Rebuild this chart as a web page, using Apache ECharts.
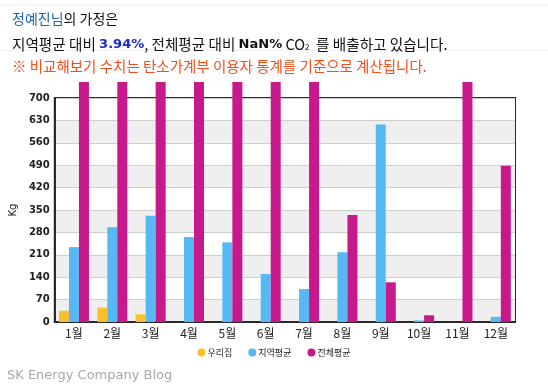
<!DOCTYPE html>
<html><head><meta charset="utf-8">
<script src="https://cdn.jsdelivr.net/npm/echarts@6/dist/echarts.min.js"></script>
<style>html,body{margin:0;padding:0;background:#fff}#c{width:548px;height:391px}</style>
</head><body><div id="c"></div>
<script>
const categories = ['1월','2월','3월','4월','5월','6월','7월','8월','9월','10월','11월','12월'];
const ourHome = [35, 45, 24, null, null, null, null, null, null, null, null, null];
const regionAvg = [234, 296, 332, 266, 249, 150, 103, 218, 617, 5, null, 16];
const totalAvg = [750, 750, 750, 750, 750, 750, 750, 334, 124, 21, 750, 488];
const yTicks = [0, 70, 140, 210, 280, 350, 420, 490, 560, 630, 700];
const seriesNames = ['우리집', '지역평균', '전체평균'];

const chart = echarts.init(document.getElementById('c'));
const kr = '"Noto Sans CJK KR", sans-serif';
function bar(name, data, color) {
  return {
    name, type: 'bar', data, barWidth: 10, barGap: '0%', clip: false,
    itemStyle: { color: color },
    emphasis: { disabled: true }
  };
}
chart.setOption({
  animation: false,
  graphic: [
    { type: 'line', shape: { x1: 0, y1: 5, x2: 548, y2: 5 }, style: { stroke: '#eee', lineWidth: 1 } },
    { type: 'line', shape: { x1: 0, y1: 50, x2: 548, y2: 50 }, style: { stroke: '#eee', lineWidth: 1 } },
    { type: 'text', left: 12, top: 12, style: {
        text: '{b|정예진님}{n|의 가정은}',
        rich: { b: { fill: '#1f63a8', fontSize: 14, fontFamily: kr }, n: { fill: '#111', fontSize: 14, fontFamily: kr } } } },
    { type: 'text', left: 12, top: 37, style: {
        text: '{n|지역평균 대비 }{p|3.94%}{n|, 전체평균 대비 }{k|NaN%}{n| CO}{s|2}{n|  를 배출하고 있습니다.}',
        rich: {
          n: { fill: '#111', fontSize: 14.6, fontFamily: kr },
          p: { fill: '#1a2bc8', fontSize: 13, fontWeight: 'bold', fontFamily: 'DejaVu Sans' },
          k: { fill: '#111', fontSize: 13, fontWeight: 'bold', fontFamily: 'DejaVu Sans' },
          s: { fill: '#111', fontSize: 8, fontFamily: kr, padding: [6, 0, 0, 0] }
        } } },
    { type: 'text', left: 12, top: 59, style: {
        text: '※ 비교해보기 수치는 탄소가계부 이용자 통계를 기준으로 계산됩니다.',
        fill: '#f0501e', fontSize: 14.5, fontFamily: kr } },
    { type: 'text', left: 7, top: 369, style: {
        text: 'SK Energy Company Blog', fill: '#a8a8a8', fontSize: 13, fontFamily: '"DejaVu Sans", sans-serif' } }
  ],
  legend: {
    bottom: 29, left: 'center', icon: 'circle', itemWidth: 8, itemHeight: 8, itemGap: 16,
    data: seriesNames,
    textStyle: { fontSize: 9, color: '#222', fontFamily: kr, padding: [0, 0, 0, -3] }
  },
  grid: { left: 50, right: 33, top: 98, bottom: 69, show: true, borderColor: '#2a2a2a', borderWidth: 2, backgroundColor: 'transparent' },
  xAxis: {
    type: 'category', data: categories,
    axisTick: { show: false },
    axisLine: { lineStyle: { color: '#2a2a2a', width: 2 } },
    axisLabel: { color: '#222', fontSize: 12, fontFamily: kr, margin: 5 }
  },
  yAxis: {
    type: 'value', min: 0, max: 700, interval: 70,
    name: 'Kg', nameLocation: 'middle', nameGap: 34, nameRotate: 90,
    nameTextStyle: { color: '#222', fontSize: 10, fontFamily: 'DejaVu Sans' },
    axisLine: { show: true, lineStyle: { color: '#2a2a2a', width: 2 } },
    axisLabel: { color: '#222', fontSize: 10, fontWeight: 'bold', fontFamily: 'DejaVu Sans', margin: 5,
      formatter: v => yTicks.includes(v) ? String(v) : '' },
    splitLine: { lineStyle: { color: '#cfcfcf' } },
    splitArea: { show: true, areaStyle: { color: ['#efefef', '#ffffff'] } }
  },
  series: [
    bar(seriesNames[0], ourHome, '#fbbf2c'),
    bar(seriesNames[1], regionAvg, '#56b9f6'),
    bar(seriesNames[2], totalAvg, '#c8198c')
  ]
});
</script></body></html>
